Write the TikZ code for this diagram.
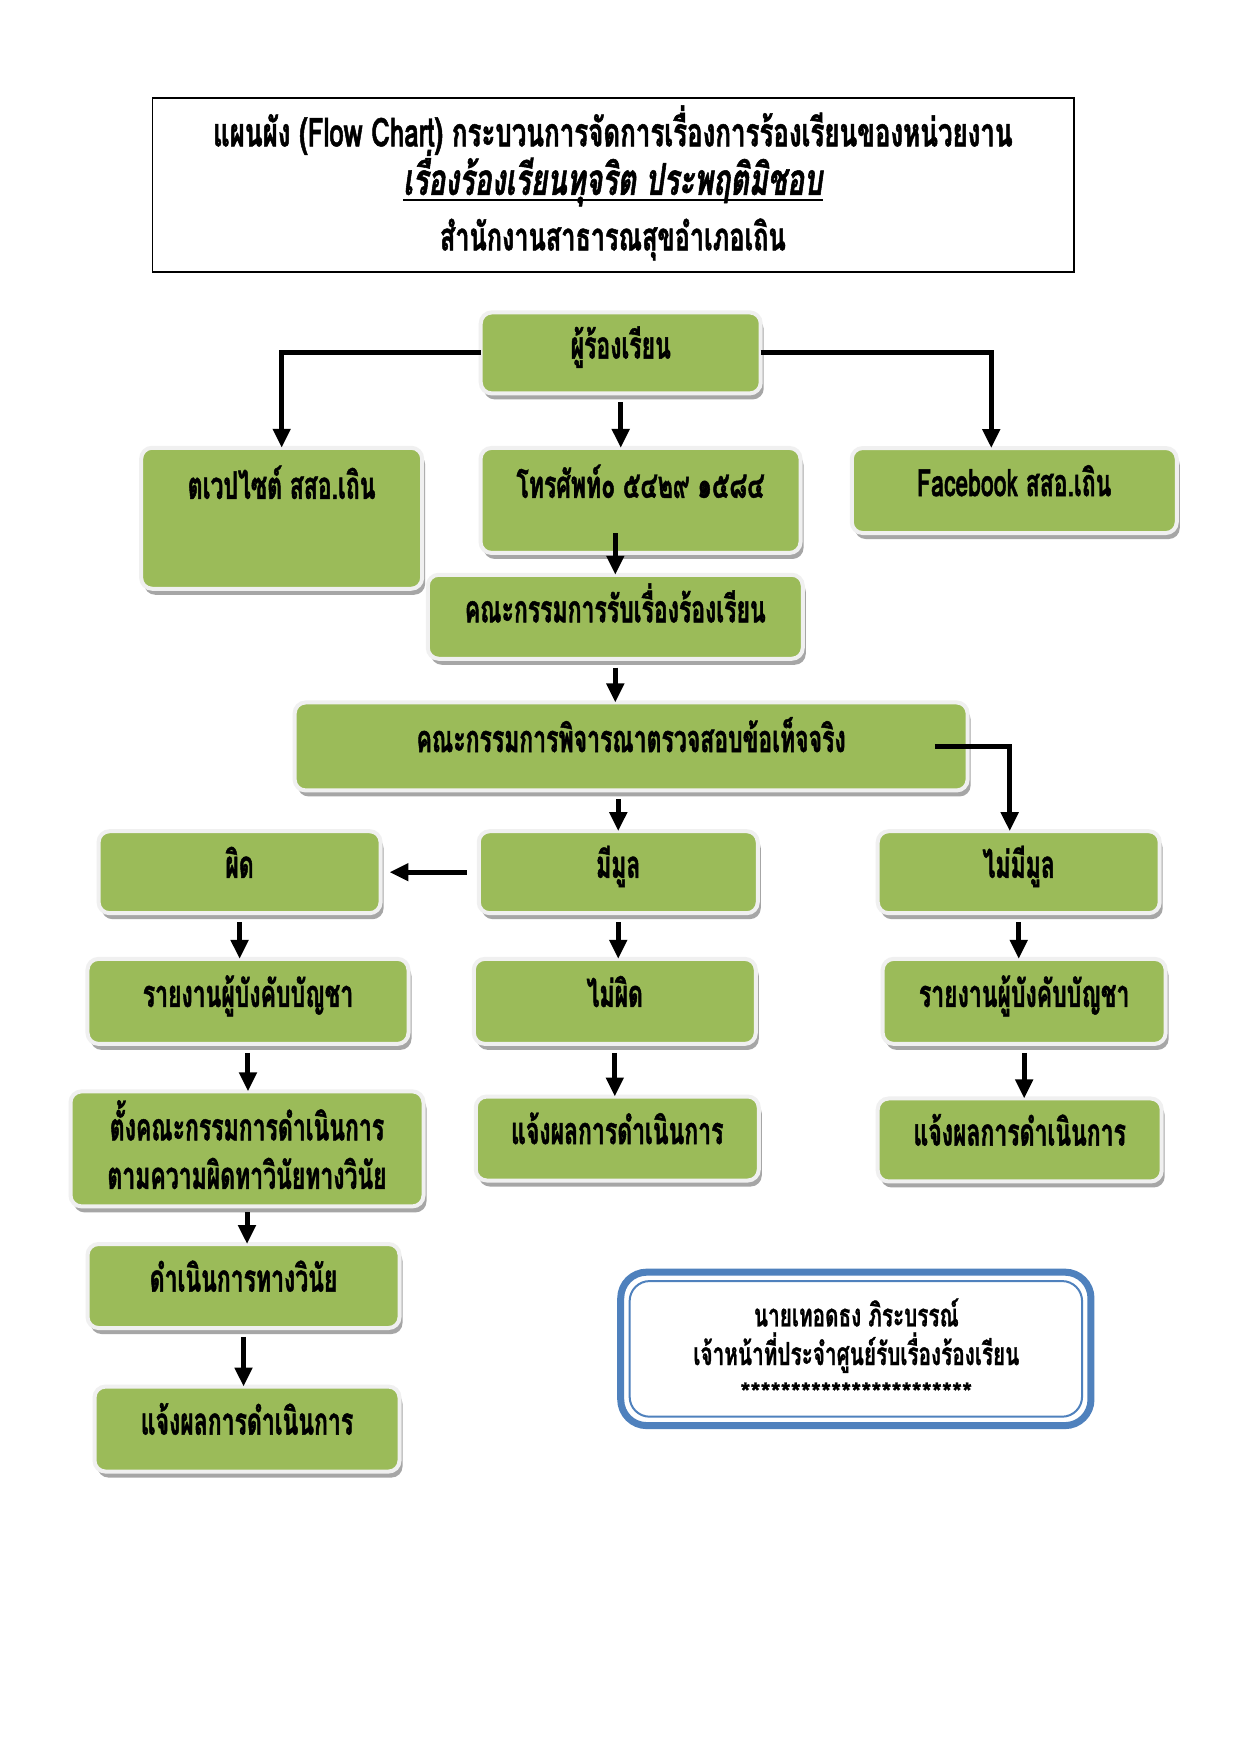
\documentclass[tikz,border=0pt]{standalone}
\usepackage{fontspec}
\newfontfamily\boxfont[Script=Thai,FakeStretch=0.607,FakeBold=1.2]{Loma}
\newfontfamily\titlefont[Script=Thai,FakeStretch=0.65,FakeBold=1.2]{Loma}
\newfontfamily\sigfont[Script=Thai,FakeStretch=0.65,FakeBold=0.8]{Loma}
\newfontfamily\starfont[FakeBold=1]{Loma}
\usetikzlibrary{shadows,calc,arrows.meta}
\definecolor{boxgreen}{RGB}{155,187,89}
\definecolor{frameblue}{RGB}{79,129,189}
\begin{document}
\begin{tikzpicture}[x=0.99bp,y=-0.99bp,
  box/.style={draw=white!94!black, line width=4bp, fill=boxgreen, rounded corners=11bp,
    drop shadow={shadow xshift=3bp,shadow yshift=-6bp,fill=black!35,opacity=1},
    inner sep=0pt, outer sep=0pt, text height=20bp, text depth=8.8bp,
    font=\boxfont\bfseries\fontsize{38}{44}\selectfont},
  txt/.style={inner sep=0pt, text height=5.5pt, text depth=0pt, yshift=-10bp,
    font=\boxfont\bfseries\fontsize{38}{44}\selectfont},
  ttl/.style={txt, font=\titlefont\bfseries\fontsize{40}{46}\selectfont},
  sig/.style={txt, font=\sigfont\bfseries\fontsize{32}{38}\selectfont},
  arr/.style={line width=5bp, -{Triangle[length=19bp,width=17bp]}}]
\useasboundingbox (0,0) rectangle (1252.5,1769.7);
\fill[white] (0,0) rectangle (1252.5,1769.7);
% title
\draw[line width=1.5bp] (154,99) rectangle (1085,275);
\node[ttl] (t1) at (619,135) {แผนผัง (Flow Chart) กระบวนการจัดการเรื่องการร้องเรียนของหน่วยงาน};
\node[ttl, font=\titlefont\bfseries\itshape\fontsize{44}{50}\selectfont] (t2) at (619,184) {เรื่องร้องเรียนทุจริต ประพฤติมิชอบ};
\draw[line width=2.5bp] ($(t2.south west)+(0,5)$) -- ($(t2.south east)+(0,5)$);
\node[ttl, font=\titlefont\bfseries\fontsize{39}{45}\selectfont] (t3) at (619,240) {สำนักงานสาธารณสุขอำเภอเถิน};
% boxes
\node[box, minimum width=280bp, minimum height=81bp] (P) at (627,356.5) {ผู้ร้องเรียน};
\node[box, minimum width=281bp, minimum height=141bp] (W) at (284.5,523.5) {};
\node[txt] (Wt) at (284.5,491) {ตเวปไซต์ สสอ.เถิน};
\node[box, minimum width=320bp, minimum height=105bp] (T) at (647,505.5) {};
\node[txt] (Tt) at (647,490) {โทรศัพท์๐ ๕๔๒๙ ๑๕๘๔};
\node[box, minimum width=325bp, minimum height=85bp] (F) at (1024.5,495.5) {Facebook สสอ.เถิน};
\node[box, minimum width=375bp, minimum height=84bp] (C) at (621.5,623) {คณะกรรมการรับเรื่องร้องเรียน};
\node[box, minimum width=673bp, minimum height=88bp] (B) at (637.5,754) {คณะกรรมการพิจารณาตรวจสอบข้อเท็จจริง};
\node[box, minimum width=282bp, minimum height=82bp] (PH) at (242,881) {ผิด};
\node[box, minimum width=279bp, minimum height=82bp] (MM) at (624.5,881) {มีมูล};
\node[box, minimum width=282bp, minimum height=82bp] (NM) at (1029,881) {ไม่มีมูล};
\node[box, minimum width=321bp, minimum height=85bp] (R1) at (250.5,1011.5) {รายงานผู้บังคับบัญชา};
\node[box, minimum width=282bp, minimum height=85bp] (NP) at (621,1011.5) {ไม่ผิด};
\node[box, minimum width=283bp, minimum height=85bp] (R2) at (1034.5,1011.5) {รายงานผู้บังคับบัญชา};
\node[box, minimum width=353bp, minimum height=115bp] (S) at (249.5,1160.5) {};
\node[txt] (S1) at (249.5,1139) {ตั้งคณะกรรมการดำเนินการ};
\node[txt] (S2) at (249.5,1188) {ตามความผิดทาวินัยทางวินัย};
\node[box, minimum width=283bp, minimum height=84bp] (N1) at (623.5,1150) {แจ้งผลการดำเนินการ};
\node[box, minimum width=284bp, minimum height=83bp] (N2) at (1030,1151.5) {แจ้งผลการดำเนินการ};
\node[box, minimum width=312bp, minimum height=84bp] (D) at (246,1299) {ดำเนินการทางวินัย};
\node[box, minimum width=305bp, minimum height=85bp] (N3) at (249.5,1443.5) {แจ้งผลการดำเนินการ};
% signature box
\draw[frameblue, line width=7bp, rounded corners=26bp, fill=white] (627,1285) rectangle (1102,1440);
\draw[frameblue, line width=2bp, rounded corners=20bp] (636,1294) rectangle (1093,1431);
\node[sig] (s1) at (865,1327) {นายเทอดธง ภิระบรรณ์};
\node[sig] (s2) at (865,1366) {เจ้าหน้าที่ประจำศูนย์รับเรื่องร้องเรียน};
\node[inner sep=0pt, font=\starfont\bfseries\fontsize{26}{30}\selectfont] (s3) at (865,1406) {***********************};
% arrows
\draw[arr] (P.west) -| (W.north);
\draw[arr] ($(P.south)+(0,9)$) -- (P.south |- T.north);
\draw[arr] (P.east) -| ([xshift=-23bp]F.north);
\draw[arr] ($(T.south -| C.north)+(0,-20)$) -- (C.north);
\draw[arr] ($(C.south)+(0,9)$) -- (C.south |- B.north);
\draw[arr] ($(B.east)+(-33,0)$) -| ([xshift=-9bp]NM.north);
\draw[arr] ($(B.south -| MM.north)+(0,9)$) -- (MM.north);
\draw[arr] ($(MM.west)+(-12,0)$) -- ($(PH.east)+(9,0)$);
\draw[arr] ($(PH.south)+(0,9)$) -- (PH.south |- R1.north);
\draw[arr] ($(MM.south)+(0,9)$) -- (MM.south |- NP.north);
\draw[arr] ($(NM.south)+(0,9)$) -- (NM.south |- R2.north);
\draw[arr] ($(R1.south)+(0,9)$) -- (R1.south |- S.north);
\draw[arr] ($(NP.south)+(0,9)$) -- (NP.south |- N1.north);
\draw[arr] ($(R2.south)+(0,9)$) -- (R2.south |- N2.north);
\draw[arr] ($(S.south)+(0,6)$) -- (S.south |- D.north);
\draw[arr] ($(D.south)+(0,9)$) -- (D.south |- N3.north);
\end{tikzpicture}
\end{document}
